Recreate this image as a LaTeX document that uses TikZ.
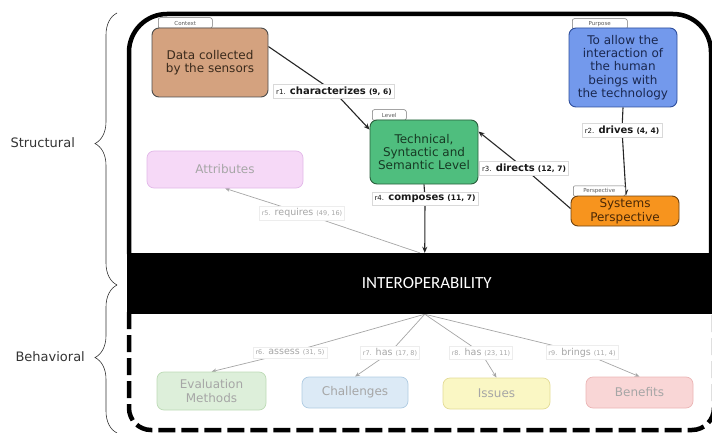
\documentclass[tikz,border=0pt]{standalone}
\usepackage{fontspec}
\setmainfont{DejaVu Sans}
\newfontfamily\bandfont{Carlito}
\usetikzlibrary{arrows.meta,decorations.pathreplacing,backgrounds,calc}
\definecolor{cData}{HTML}{D4A27F}
\definecolor{cDataT}{HTML}{3A2A1C}
\definecolor{cPurp}{HTML}{7399EC}
\definecolor{cPurpD}{HTML}{2E4E9C}
\definecolor{cPurpT}{HTML}{1A2850}
\definecolor{cLev}{HTML}{4FBE7E}
\definecolor{cLevD}{HTML}{2A5E3C}
\definecolor{cLevT}{HTML}{173A24}
\definecolor{cPers}{HTML}{F7941E}
\definecolor{cPersD}{HTML}{6E4210}
\definecolor{cPersT}{HTML}{4A2806}
\definecolor{cAttr}{HTML}{F6D9F7}
\definecolor{cAttrD}{HTML}{E2B8E8}
\definecolor{cEval}{HTML}{DDEFDA}
\definecolor{cEvalD}{HTML}{BDDBB6}
\definecolor{cChal}{HTML}{DCEAF6}
\definecolor{cChalD}{HTML}{AFCBE2}
\definecolor{cIss}{HTML}{FAF7C4}
\definecolor{cIssD}{HTML}{E3DB96}
\definecolor{cBen}{HTML}{F9D6D6}
\definecolor{cBenD}{HTML}{EBB5B5}
\newcommand\relnum[1]{{\fontsize{7}{8}\selectfont #1}}
\newcommand\relcnt[1]{{\fontsize{7.5}{8}\selectfont\bfseries #1}}
\newcommand\frelnum[1]{{\fontsize{6.5}{8}\selectfont #1}}
\begin{document}
\begin{tikzpicture}[x=1pt,y=-1pt,
  concept/.style={draw, rounded corners=7pt, line width=0.9pt, align=center, inner sep=1pt, font=\fontsize{12}{13.4}\selectfont},
  fconcept/.style={concept, line width=0.7pt},
  tabbox/.style={draw=black!55, fill=white, line width=0.5pt, rounded corners=2pt, minimum height=10.5pt, inner sep=0pt, font=\fontsize{5.5}{6}\selectfont, text=black!65, anchor=south west},
  elab/.style={draw=black!15, fill=white, line width=0.5pt, inner sep=2.5pt, font=\fontsize{10}{12}\selectfont, text=black!90},
  flab/.style={draw=black!7, fill=white, line width=0.5pt, inner sep=2.5pt, font=\fontsize{9.5}{11}\selectfont, text=black!35},
  link/.style={draw=black!85, line width=1.1pt},
  arr/.style={link, -{Stealth[length=6pt,width=5pt]}},
  flink/.style={draw=black!35, line width=0.7pt},
  farr/.style={flink, -{Stealth[length=5pt,width=4pt]}},
  framesolid/.style={line width=4.5pt, rounded corners=38pt},
  framedash/.style={line width=4.5pt, rounded corners=22pt, dash pattern=on 17pt off 6pt},
  bracestyle/.style={decorate, line width=0.6pt, draw=black!80},
  sidelabel/.style={font=\fontsize{13}{15}\selectfont, text=black!80, anchor=west}
]
\useasboundingbox (0,0) rectangle (712,433);

% frame
\draw[framesolid] (129,254) -- (129,14) -- (711,14) -- (711,254);
\draw[framedash] (129,312) -- (129,430) -- (714,430) -- (714,312);

% band
\node[fill=black, minimum width=600pt, minimum height=61pt, inner sep=0pt, text=white,
      font=\bandfont\fontsize{17}{19}\selectfont] (interop) at (426.75,283.5) {INTEROPERABILITY};

% braces
\draw[bracestyle, decoration={brace, amplitude=22pt, aspect=0.52}] (117,285) -- (117,13);
\draw[bracestyle, decoration={brace, amplitude=22pt, aspect=0.51}] (117,433) -- (117,285);
\node[sidelabel] (structural) at (7,143) {Structural};
\node[sidelabel] (behavioral) at (12,357) {Behavioral};

% tabs
\node[tabbox, minimum width=54pt] (tabctx) at (158,28.5) {Context};
\node[tabbox, minimum width=55pt] (tabpur) at (572,29.5) {Purpose};
\node[tabbox, minimum width=34pt] (tablev) at (372,120.5) {Level};
\node[tabbox, minimum width=52pt] (tabper) at (573,196.5) {Perspective};

% concepts
\node[concept, fill=cData, draw=black!70, text=cDataT, minimum width=116pt, minimum height=69pt] (data) at (210,62.5) {Data collected\\by the sensors};
\node[concept, fill=cPurp, draw=cPurpD, text=cPurpT, minimum width=108pt, minimum height=79pt] (purpose) at (623,67.5) {To allow the\\interaction of\\the human\\beings with\\the technology};
\node[concept, fill=cLev, draw=cLevD, text=cLevT, minimum width=108pt, minimum height=64pt] (level) at (424,152) {Technical,\\Syntactic and\\Semantic Level};
\node[concept, fill=cPers, draw=cPersD, text=cPersT, minimum width=108pt, minimum height=30pt, font=\fontsize{12}{14}\selectfont] (persp) at (625,211) {Systems\\Perspective};

\node[fconcept, fill=cAttr, draw=cAttrD, text=black!35, minimum width=156pt, minimum height=37pt] (attr) at (225,169.5) {Attributes};
\node[fconcept, fill=cEval, draw=cEvalD, text=black!35, minimum width=109pt, minimum height=38pt] (eval) at (211.5,391) {Evaluation\\Methods};
\node[fconcept, fill=cChal, draw=cChalD, text=black!35, minimum width=106pt, minimum height=31pt] (chal) at (355,392.5) {Challenges};
\node[fconcept, fill=cIss, draw=cIssD, text=black!35, minimum width=107pt, minimum height=31pt] (issues) at (496.5,393.5) {Issues};
\node[fconcept, fill=cBen, draw=cBenD, text=black!35, minimum width=107pt, minimum height=31pt] (benef) at (639.5,392.5) {Benefits};

% relation labels
\node[elab] (r1) at (334,91.5) {\relnum{r1.} \textbf{characterizes} \relcnt{(9, 6)}};
\node[elab] (r2) at (622,130) {\relnum{r2.} \textbf{drives} \relcnt{(4, 4)}};
\node[elab] (r3) at (524,168) {\relnum{r3.} \textbf{directs} \relcnt{(12, 7)}};
\node[elab] (r4) at (425,198.5) {\relnum{r4.} \textbf{composes} \relcnt{(11, 7)}};
\node[flab] (r5) at (302,213) {\frelnum{r5.} requires \frelnum{(49, 16)}};
\node[flab] (r6) at (290,352.5) {\frelnum{r6.} assess \frelnum{(31, 5)}};
\node[flab] (r7) at (390,352.5) {\frelnum{r7.} has \frelnum{(17, 8)}};
\node[flab] (r8) at (481,352.5) {\frelnum{r8.} has \frelnum{(23, 11)}};
\node[flab] (r9) at (582,352.5) {\frelnum{r9.} brings \frelnum{(11, 4)}};

% connectors
\begin{pgfonlayer}{background}
\draw[link] ($(data.north east)+(0,19)$) -- (r1.center);
\draw[arr] (r1.center) -- ($(level.north west)+(0,10)$);
\draw[link] (purpose.south) -- (r2.center);
\draw[arr] (r2.center) -- ($(persp.north)+(1,0)$);
\draw[link] ($(persp.north west)+(0,13)$) -- (r3.center);
\draw[arr] (r3.center) -- ($(level.north east)+(0,12)$);
\draw[link] (level.south) -- (r4.center);
\draw[arr] (r4.center) -- ($(interop.north)+(-2,0)$);
\draw[flink] ($(interop.north)+(-7,0)$) -- (r5.center);
\draw[farr] (r5.center) -- (attr.south);
\draw[flink] ($(interop.south)+(-2,0)$) -- (r6.center);
\draw[farr] (r6.center) -- (eval.north);
\draw[flink] ($(interop.south)+(-2,0)$) -- (r7.center);
\draw[farr] (r7.center) -- (chal.north);
\draw[flink] ($(interop.south)+(-2,0)$) -- (r8.center);
\draw[farr] (r8.center) -- (issues.north);
\draw[flink] ($(interop.south)+(-2,0)$) -- (r9.center);
\draw[farr] (r9.center) -- (benef.north);
\end{pgfonlayer}
\end{tikzpicture}
\end{document}
